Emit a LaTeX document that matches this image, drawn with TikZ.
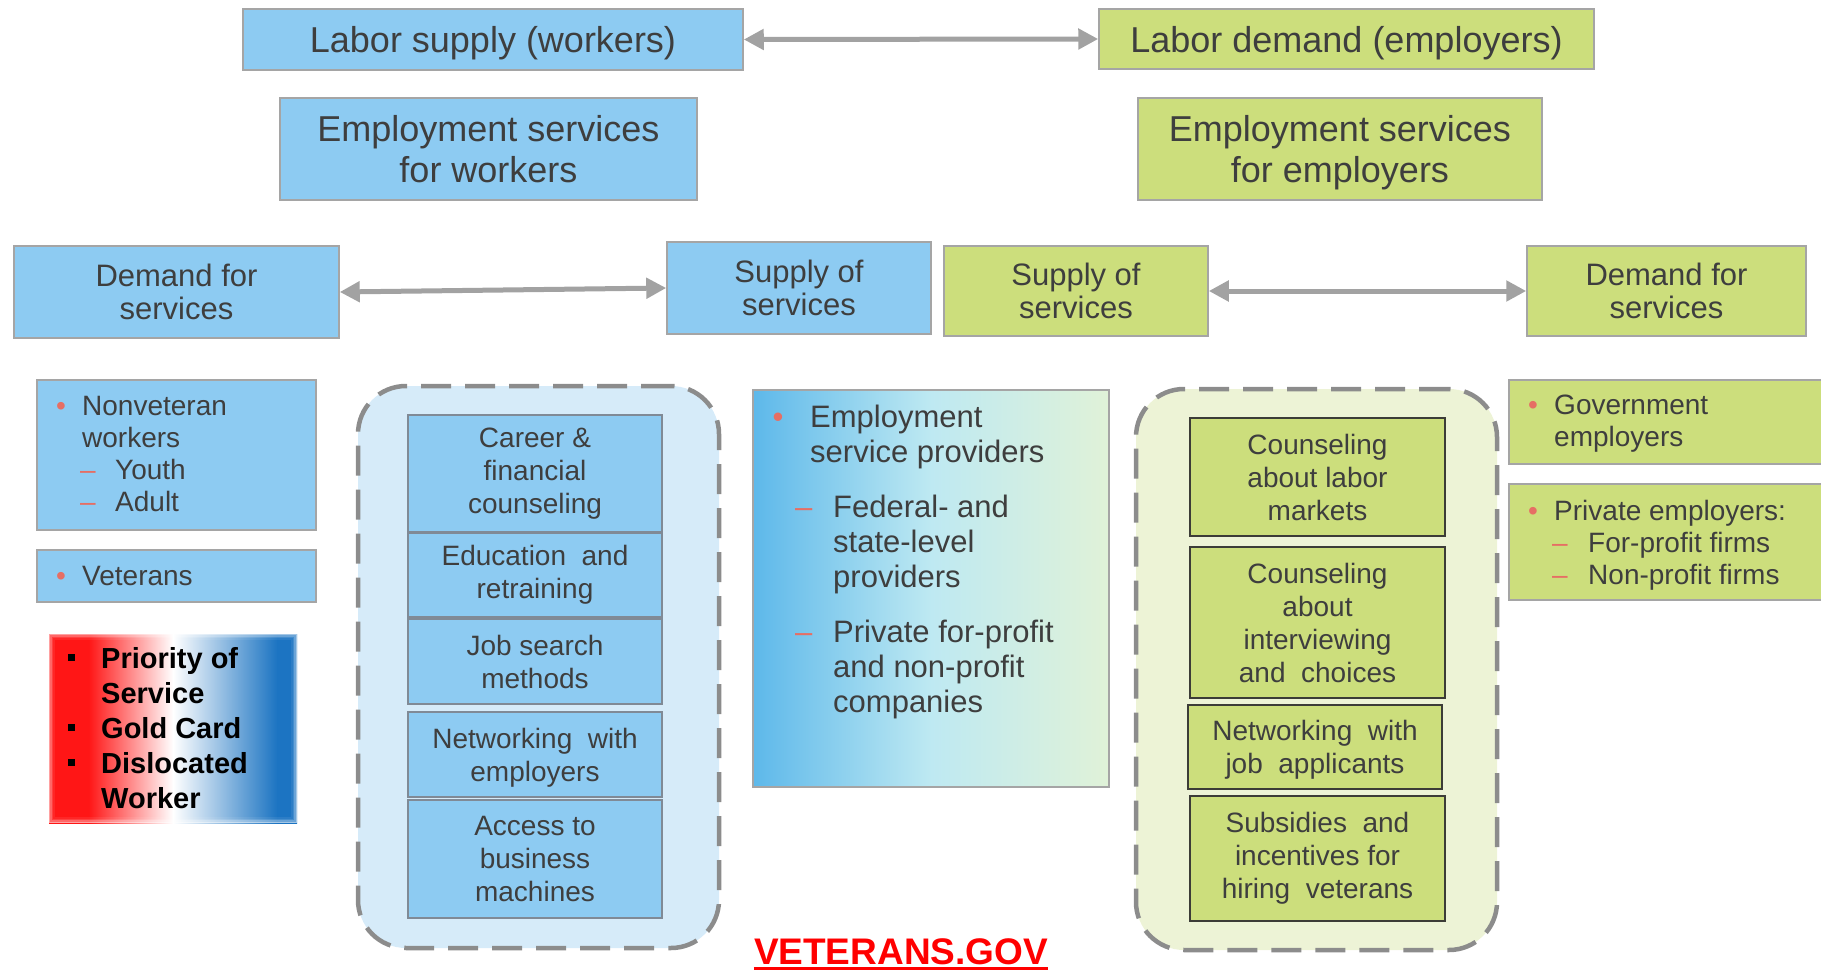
\documentclass[tikz,border=0pt]{standalone}
\usepackage{fontspec}
\setmainfont{Liberation Sans}
\usetikzlibrary{arrows.meta,calc}

% palette
\definecolor{boxblue}{RGB}{141,203,242}
\definecolor{boxgreen}{RGB}{204,222,124}
\definecolor{paleblue}{RGB}{214,235,249}
\definecolor{palegreen}{RGB}{237,243,214}
\definecolor{edgegray}{RGB}{165,165,165}
\definecolor{tilegray}{RGB}{128,138,150}
\definecolor{tileedge}{RGB}{60,60,55}
\definecolor{dashgray}{RGB}{140,140,140}
\definecolor{inkgray}{RGB}{62,62,62}
\definecolor{bulletred}{RGB}{230,110,100}
\definecolor{arrowgray}{RGB}{162,162,162}
\definecolor{prioblue}{RGB}{28,116,194}
\definecolor{priored}{RGB}{255,22,22}
\definecolor{provleft}{RGB}{93,184,234}
\definecolor{provmid}{RGB}{190,233,242}
\definecolor{provright}{RGB}{224,242,216}
\definecolor{webred}{RGB}{255,0,0}

% red - white - blue band for the priority panel (box spans 25bp..75bp)
\pgfdeclarehorizontalshading{redwhiteblue}{100bp}{%
  color(0bp)=(priored); color(25bp)=(priored); color(33bp)=(priored);
  color(50bp)=(white); color(71bp)=(prioblue); color(75bp)=(prioblue);
  color(100bp)=(prioblue)}

% type sizes
\newcommand\fTop{\fontsize{36}{41}\selectfont}
\newcommand\fMid{\fontsize{31}{33}\selectfont}
\newcommand\fSmall{\fontsize{28}{33}\selectfont}
\newcommand\fProv{\fontsize{31}{35}\selectfont}
\newcommand\fPrio{\fontsize{29}{35}\selectfont\bfseries}
\newcommand\fWeb{\fontsize{37}{40}\selectfont\bfseries}

\tikzset{
  panel/.style={draw=edgegray, line width=1.5pt, inner sep=0pt, align=center, text=inkgray},
  bluepanel/.style={panel, fill=boxblue},
  greenpanel/.style={panel, fill=boxgreen},
  bluetile/.style={draw=tilegray, line width=2pt, fill=boxblue, inner sep=0pt,
    align=center, text=inkgray, font=\fSmall},
  greentile/.style={draw=tileedge, line width=2.2pt, fill=boxgreen, inner sep=0pt,
    align=center, text=inkgray, font=\fSmall},
  groupframe/.style={draw=dashgray, line width=4.5pt, dash pattern=on 30pt off 14pt,
    rounded corners=48pt, inner sep=0pt},
  flatbase/.style={text depth=0pt},
  listline/.style={anchor=mid west, inner sep=0pt, text=inkgray, yshift=-8pt},
  dotmark/.style={anchor=mid, inner sep=0pt, text=bulletred, yshift=-8pt},
  dashmark/.style={anchor=mid west, inner sep=0pt, text=bulletred, yshift=-8pt},
  sqmark/.style={fill=black, inner sep=0pt, minimum size=7pt},
  twoway/.style={draw=arrowgray, line width=5pt,
    {Triangle[length=20pt,width=20pt]}-{Triangle[length=20pt,width=20pt]}},
}

\begin{document}
\begin{tikzpicture}[x=1pt,y=-1pt]
\useasboundingbox (0,0) rectangle (1821,971);

% ---- market level ----
\node[bluepanel, flatbase, font=\fTop, minimum width=500pt, minimum height=61pt] (lsup) at (493,39.5) {Labor supply (workers)};
\node[greenpanel, flatbase, font=\fTop, minimum width=495pt, minimum height=60pt] (ldem) at (1346.5,39) {Labor demand (employers)};
\draw[twoway] (lsup.east) -- (ldem.west);

\node[bluepanel, font=\fTop, minimum width=417pt, minimum height=102pt] (esw) at (488.5,149) {Employment services\\for workers};
\node[greenpanel, flatbase, font=\fTop, minimum width=404pt, minimum height=102pt] (ese) at (1340,149) {Employment services\\for employers};

% ---- service markets ----
\node[bluepanel, font=\fMid, minimum width=325pt, minimum height=92pt] (dfsL) at (176.5,292) {Demand for\\services};
\node[bluepanel, font=\fMid, minimum width=264pt, minimum height=92pt] (sosB) at (799,288) {Supply of\\services};
\node[greenpanel, font=\fMid, minimum width=264pt, minimum height=90pt] (sosG) at (1076,291) {Supply of\\services};
\node[greenpanel, font=\fMid, minimum width=279pt, minimum height=90pt] (dfsR) at (1666.5,291) {Demand for\\services};
\draw[twoway] (dfsL.east) -- (sosB.west);
\draw[twoway] (sosG.east) -- (dfsR.west);

% ---- worker groups ----
\node[bluepanel, minimum width=279pt, minimum height=150pt] (nonvet) at (176.5,455) {};
\node[dotmark, font=\fSmall] (nvb) at (61,405) {•};
\node[listline, font=\fSmall] (nv1) at (82,405) {Nonveteran};
\node[listline, font=\fSmall] (nv2) at (82,437) {workers};
\node[dashmark, font=\fSmall] (nvd1) at (80,469) {–};
\node[listline, font=\fSmall] (nv3) at (115,469) {Youth};
\node[dashmark, font=\fSmall] (nvd2) at (80,501) {–};
\node[listline, font=\fSmall] (nv4) at (115,501) {Adult};

\node[bluepanel, minimum width=279pt, minimum height=52pt] (vets) at (176.5,576) {};
\node[dotmark, font=\fSmall] (vtb) at (61,575) {•};
\node[listline, font=\fSmall] (vt1) at (82,575) {Veterans};

% red-white-blue priority panel with feathered rim
\node[shading=redwhiteblue, minimum width=248pt, minimum height=189pt, inner sep=0pt] (prio) at (173,728.5) {};
\foreach \d/\o in {0.8/0.6, 2.3/0.35, 3.8/0.18, 5.3/0.07}
  \draw[white, opacity=\o, line width=1.6pt]
    ($(prio.south west)+(\d,-\d)$) rectangle ($(prio.north east)+(-\d,\d)$);
\node[sqmark] (pq1) at (71.5,657) {};
\node[sqmark] (pq2) at (71.5,727) {};
\node[sqmark] (pq3) at (71.5,762) {};
\node[listline, text=black, font=\fPrio] (pr1) at (101,658) {Priority of};
\node[listline, text=black, font=\fPrio] (pr2) at (101,693) {Service};
\node[listline, text=black, font=\fPrio] (pr3) at (101,728) {Gold Card};
\node[listline, text=black, font=\fPrio] (pr4) at (101,763) {Dislocated};
\node[listline, text=black, font=\fPrio] (pr5) at (101,798) {Worker};

% ---- services for workers ----
\node[groupframe, fill=paleblue, minimum width=361pt, minimum height=562pt] (wrapW) at (538.5,667) {};
\node[bluetile, minimum width=254pt, minimum height=117pt] (tw1) at (535,473.5) {Career \&\\financial\\counseling};
\node[bluetile, minimum width=254pt, minimum height=84pt] (tw2) at (535,575) {Education\ \ and\\retraining};
\node[bluetile, minimum width=254pt, minimum height=85pt] (tw3) at (535,661.5) {Job search\\methods};
\node[bluetile, flatbase, minimum width=254pt, minimum height=85pt] (tw4) at (535,754.5) {Networking\ \ with\\employers};
\node[bluetile, minimum width=254pt, minimum height=118pt] (tw5) at (535,859) {Access to\\business\\machines};

% ---- providers ----
\node[draw=edgegray, line width=1.5pt, left color=provleft, right color=provright, middle color=provmid, minimum width=356pt, minimum height=397pt, inner sep=0pt] (prov) at (931,588.5) {};
\node[dotmark, font=\fProv] (pvb) at (778,417) {•};
\node[listline, font=\fProv] (pv1) at (810,417) {Employment};
\node[listline, font=\fProv] (pv2) at (810,452) {service providers};
\node[dashmark, font=\fProv] (pvd1) at (795,507) {–};
\node[listline, font=\fProv] (pv3) at (833,507) {Federal- and};
\node[listline, font=\fProv] (pv4) at (833,542) {state-level};
\node[listline, font=\fProv] (pv5) at (833,577) {providers};
\node[dashmark, font=\fProv] (pvd2) at (795,632) {–};
\node[listline, font=\fProv] (pv6) at (833,632) {Private for-profit};
\node[listline, font=\fProv] (pv7) at (833,667) {and non-profit};
\node[listline, font=\fProv] (pv8) at (833,702) {companies};

% ---- services for employers ----
\node[groupframe, fill=palegreen, minimum width=361pt, minimum height=561pt] (wrapE) at (1316.5,669.5) {};
\node[greentile, minimum width=255pt, minimum height=118pt] (te1) at (1317.5,477) {Counseling\\about labor\\markets};
\node[greentile, minimum width=255pt, minimum height=151pt] (te2) at (1317.5,622.5) {Counseling\\about\\interviewing\\and\ \ choices};
\node[greentile, flatbase, minimum width=254pt, minimum height=84pt] (te3) at (1315,747) {Networking\ \ with\\job\ \ applicants};
\node[greentile, minimum width=255pt, minimum height=125pt] (te4) at (1317.5,858.5) {Subsidies\ \ and\\incentives for\\hiring\ \ veterans};

% ---- employer groups ----
\node[greenpanel, minimum width=321pt, minimum height=84pt] (gov) at (1669.5,422) {};
\node[dotmark, font=\fSmall] (gvb) at (1533,404) {•};
\node[listline, font=\fSmall] (gv1) at (1554,404) {Government};
\node[listline, font=\fSmall] (gv2) at (1554,436) {employers};

\node[greenpanel, minimum width=321pt, minimum height=116pt] (priv) at (1669.5,542) {};
\node[dotmark, font=\fSmall] (pbb) at (1533,510) {•};
\node[listline, font=\fSmall] (pb1) at (1554,510) {Private employers:};
\node[dashmark, font=\fSmall] (pbd1) at (1552,542) {–};
\node[listline, font=\fSmall] (pb2) at (1588,542) {For-profit firms};
\node[dashmark, font=\fSmall] (pbd2) at (1552,574) {–};
\node[listline, font=\fSmall] (pb3) at (1588,574) {Non-profit firms};

% ---- web address ----
\node[anchor=base, inner sep=0pt, text=webred, font=\fWeb] (web) at (901,964) {VETERANS.GOV};
\draw[webred, line width=3pt] ($(web.base west)+(0,4)$) -- ($(web.base east)+(0,4)$);
\end{tikzpicture}
\end{document}
